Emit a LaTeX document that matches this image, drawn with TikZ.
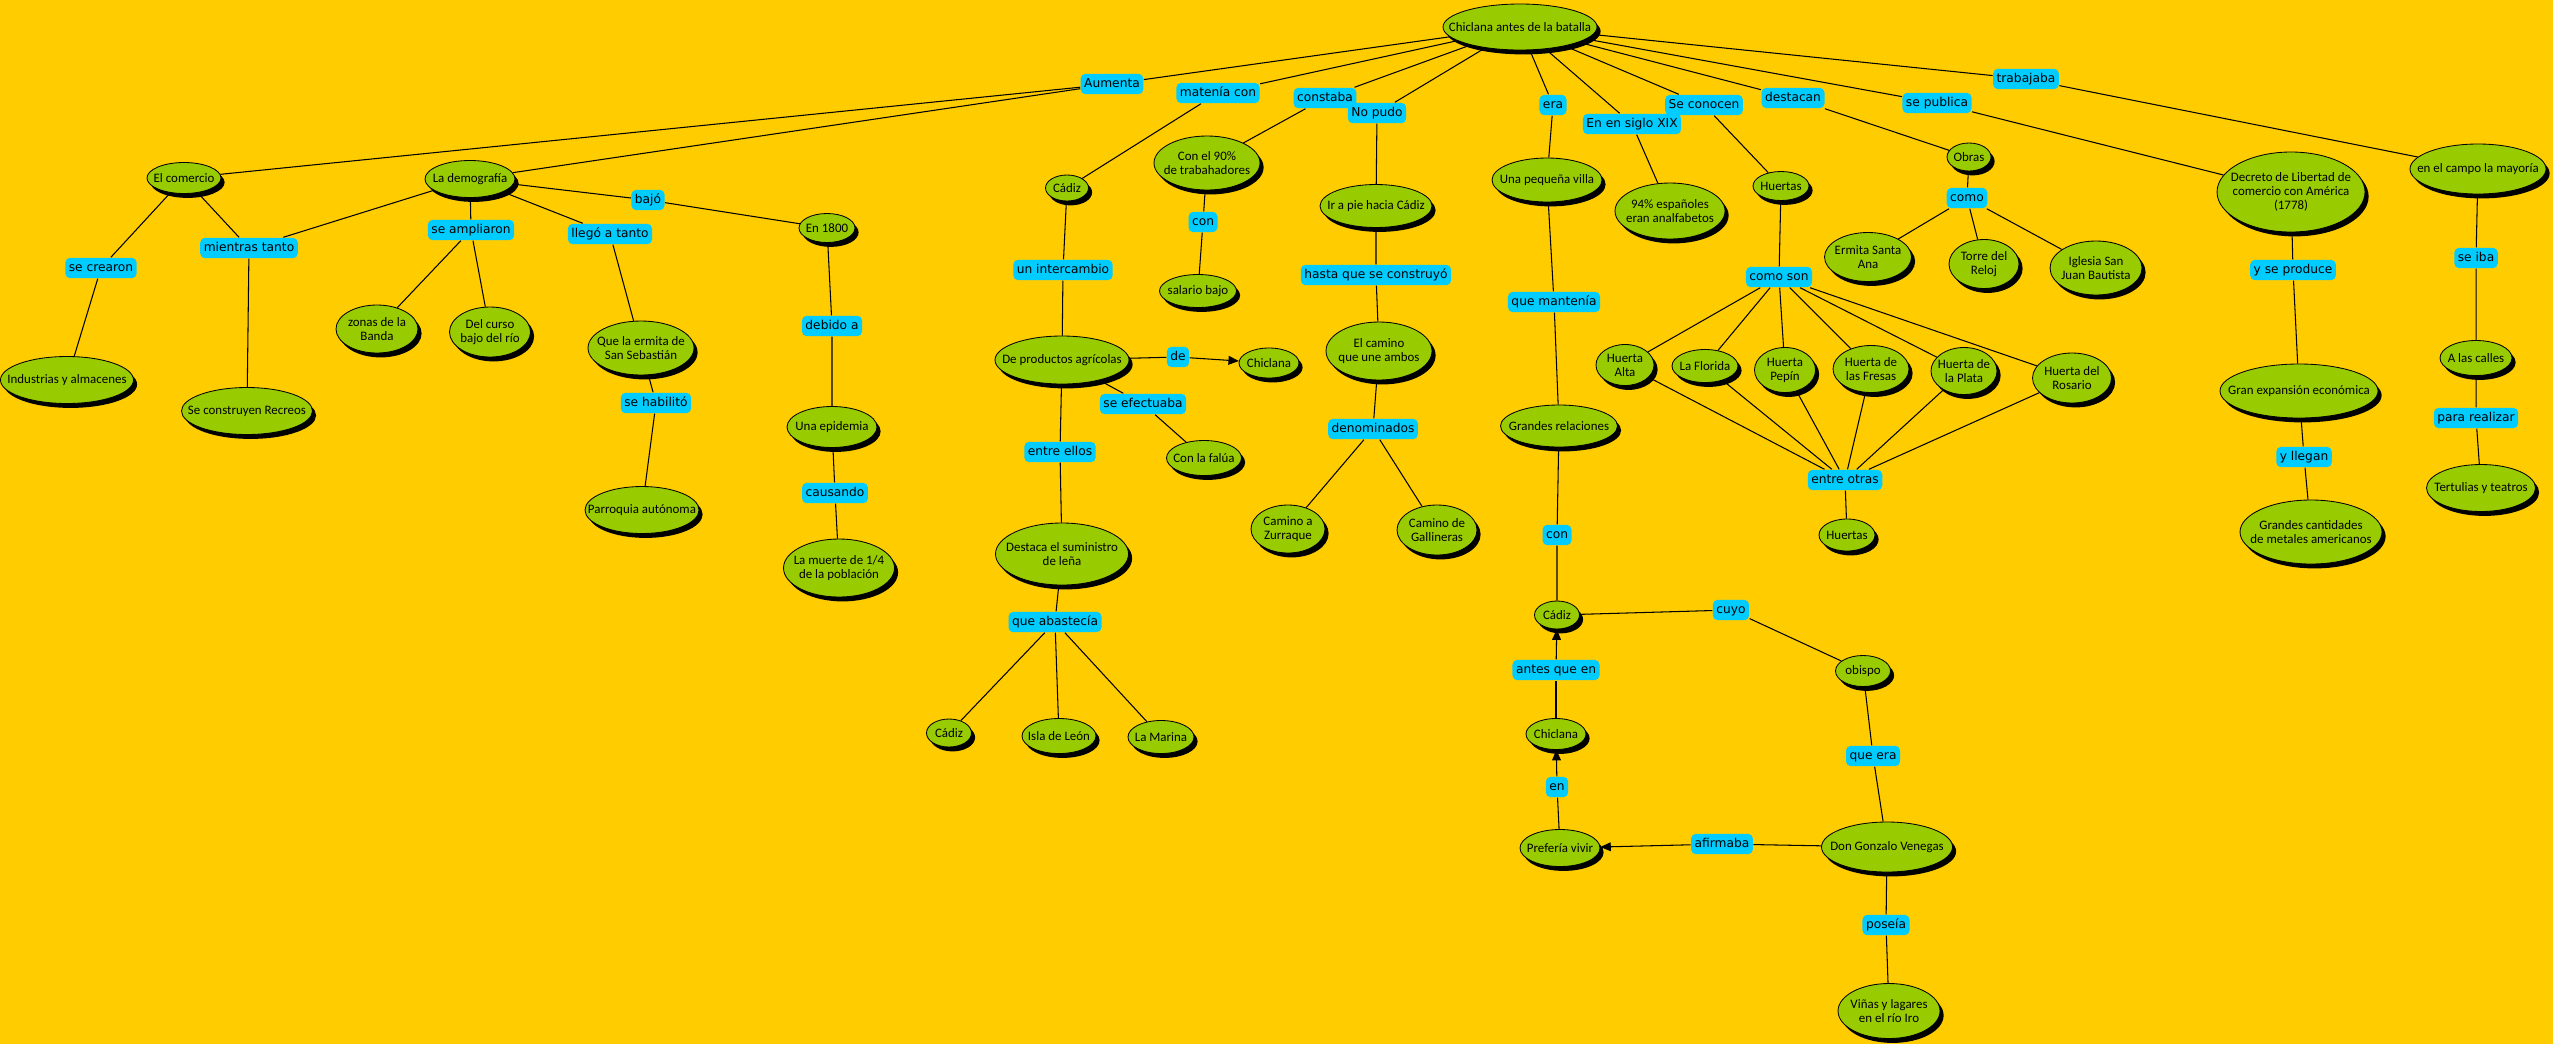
\documentclass[tikz,border=0pt]{standalone}
\usepackage{fontspec}
\setmainfont{Carlito}
\newfontfamily\linkfont{DejaVu Sans}
\usetikzlibrary{shapes.geometric,shadows,arrows.meta}
\definecolor{fondo}{HTML}{FFCC00}
\definecolor{verde}{HTML}{99CC00}
\definecolor{celeste}{HTML}{00CCFF}
\tikzset{
  concept/.style={ellipse,draw=black,line width=0.6pt,fill=verde,inner sep=0pt,
    drop shadow={shadow xshift=0.9mm,shadow yshift=-1.1mm,fill=black,opacity=1}},
  ctext/.style={align=center,inner sep=0pt,font=\fontsize{9.2}{10}\selectfont},
  link/.style={fill=celeste,rounded corners=1.2mm,inner xsep=2.5pt,inner ysep=3pt,
    text height=6.5pt,text depth=2pt,font=\linkfont\fontsize{8.7}{10}\selectfont},
  esz/.style 2 args={minimum width=#1*0.25mm,minimum height=#2*0.25mm},
  tip/.style={-{Triangle[length=2.6mm,width=2.2mm]}}
}
\begin{document}
\begin{tikzpicture}[x=0.25mm,y=-0.25mm,line width=0.75pt]
        \fill[fondo] (0,0) rectangle (2553,1044);
        \useasboundingbox (0,0) rectangle (2553,1044);
        \draw (1520,27) node[concept,esz={154}{46},label={[ctext]center:Chiclana antes de la batalla}] (cab) {};
        \draw (184,178) node[concept,esz={74}{31},label={[ctext]center:El comercio}] (elcom) {};
        \draw (470,179) node[concept,esz={90}{37},label={[ctext]center:La demografía}] (demo) {};
        \draw (67,380) node[concept,esz={133}{47},label={[ctext]center:Industrias y almacenes}] (indus) {};
        \draw (247,411) node[concept,esz={131}{47},label={[ctext]center:Se construyen Recreos}] (recreos) {};
        \draw (377,329) node[concept,esz={82}{48},label={[ctext]center:{zonas de la\\Banda}}] (banda) {};
        \draw (490,332) node[concept,esz={81}{50},label={[ctext]center:{Del curso\\bajo del río}}] (curso) {};
        \draw (641,348) node[concept,esz={106}{54},label={[ctext]center:{Que la ermita de\\San Sebastián}}] (ermita) {};
        \draw (642,510) node[concept,esz={114}{47},label={[ctext]center:Parroquia autónoma}] (parroquia) {};
        \draw (827,228) node[concept,esz={56}{29},label={[ctext]center:En 1800}] (en1800) {};
        \draw (832,427) node[concept,esz={90}{41},label={[ctext]center:Una epidemia}] (epidemia) {};
        \draw (839,568) node[concept,esz={111}{58},label={[ctext]center:{La muerte de 1/4\\de la población}}] (muerte) {};
        \draw (1067,188) node[concept,esz={43}{26},label={[ctext]center:Cádiz}] (cadiztop) {};
        \draw (1207,163) node[concept,esz={106}{54},label={[ctext]center:{Con el 90\%\\de trabahadores}}] (noventa) {};
        \draw (1198,291) node[concept,esz={77}{33},label={[ctext]center:salario bajo}] (salario) {};
        \draw (1062,360) node[concept,esz={134}{48},label={[ctext]center:De productos agrícolas}] (prod) {};
        \draw (1269,363) node[concept,esz={60}{30},label={[ctext]center:Chiclana}] (chicsm) {};
        \draw (1204,458) node[concept,esz={75}{35},label={[ctext]center:Con la falúa}] (falua) {};
        \draw (1062,554) node[concept,esz={133}{62},label={[ctext]center:{Destaca el suministro\\de leña}}] (destaca) {};
        \draw (949,733) node[concept,esz={45}{28},label={[ctext]center:Cádiz}] (cadizb) {};
        \draw (1059,736) node[concept,esz={74}{35},label={[ctext]center:Isla de León}] (isla) {};
        \draw (1161,737) node[concept,esz={66}{33},label={[ctext]center:La Marina}] (marina) {};
        \draw (1376,206) node[concept,esz={112}{43},label={[ctext]center:Ir a pie hacia Cádiz}] (irapie) {};
        \draw (1379,351) node[concept,esz={106}{58},label={[ctext]center:{El camino\\que une ambos}}] (camino) {};
        \draw (1288,529) node[concept,esz={74}{48},label={[ctext]center:{Camino a\\Zurraque}}] (zurraque) {};
        \draw (1437,530) node[concept,esz={80}{50},label={[ctext]center:{Camino de\\Gallineras}}] (gallineras) {};
        \draw (1547,180) node[concept,esz={110}{44},label={[ctext]center:Una pequeña villa}] (villa) {};
        \draw (1559,426) node[concept,esz={117}{42},label={[ctext]center:Grandes relaciones}] (relac) {};
        \draw (1670,211) node[concept,esz={110}{56},label={[ctext]center:{94\% españoles\\eran analfabetos}}] (analf) {};
        \draw (1781,186) node[concept,esz={56}{29},label={[ctext]center:Huertas}] (huertas) {};
        \draw (1625,365) node[concept,esz={58}{41},label={[ctext]center:{Huerta\\Alta}}] (halta) {};
        \draw (1705,366) node[concept,esz={66}{33},label={[ctext]center:La Florida}] (florida) {};
        \draw (1785,370) node[concept,esz={61}{45},label={[ctext]center:{Huerta\\Pepín}}] (pepin) {};
        \draw (1871,369) node[concept,esz={76}{47},label={[ctext]center:{Huerta de\\las Fresas}}] (fresas) {};
        \draw (1964,371) node[concept,esz={66}{47},label={[ctext]center:{Huerta de\\la Plata}}] (plata) {};
        \draw (2072,378) node[concept,esz={79}{50},label={[ctext]center:{Huerta del\\Rosario}}] (rosario) {};
        \draw (1847,535) node[concept,esz={56}{32},label={[ctext]center:Huertas}] (huertasb) {};
        \draw (1969,157) node[concept,esz={44}{28},label={[ctext]center:Obras}] (obras) {};
        \draw (1868,257) node[concept,esz={87}{49},label={[ctext]center:{Ermita Santa\\Ana}}] (santana) {};
        \draw (1984,264) node[concept,esz={70}{49},label={[ctext]center:{Torre del\\Reloj}}] (reloj) {};
        \draw (2096,268) node[concept,esz={92}{54},label={[ctext]center:{Iglesia San\\Juan Bautista}}] (iglesia) {};
        \draw (2291,192) node[concept,esz={148}{80},label={[ctext]center:{Decreto de Libertad de\\comercio con América\\(1778)}}] (decreto) {};
        \draw (2478,169) node[concept,esz={136}{50},label={[ctext]center:en el campo la mayoría}] (campo) {};
        \draw (2299,391) node[concept,esz={158}{54},label={[ctext]center:Gran expansión económica}] (expansion) {};
        \draw (2311,532) node[concept,esz={142}{64},label={[ctext]center:{Grandes cantidades\\de metales americanos}}] (metales) {};
        \draw (2476,358) node[concept,esz={72}{35},label={[ctext]center:A las calles}] (calles) {};
        \draw (2481,488) node[concept,esz={109}{47},label={[ctext]center:Tertulias y teatros}] (tertulias) {};
        \draw (1557,615) node[concept,esz={45}{28},label={[ctext]center:Cádiz}] (cadizm) {};
        \draw (1863,671) node[concept,esz={55}{31},label={[ctext]center:obispo}] (obispo) {};
        \draw (1556,734) node[concept,esz={60}{31},label={[ctext]center:Chiclana}] (chicm) {};
        \draw (1560,848) node[concept,esz={80}{37},label={[ctext]center:Prefería vivir}] (prefiere) {};
        \draw (1887,847) node[concept,esz={131}{50},label={[ctext]center:Don Gonzalo Venegas}] (gonzalo) {};
        \draw (1889,1011) node[concept,esz={102}{55},label={[ctext]center:{Viñas y lagares\\en el río Iro}}] (vinas) {};
        \draw (1112,84) node[link] (aumenta) {Aumenta};
        \draw (1218,93) node[link] (matenia) {matenía con};
        \draw (1325,98) node[link] (constaba) {constaba};
        \draw (1377,113) node[link] (nopudo) {No pudo};
        \draw (1553,105) node[link] (era) {era};
        \draw (1632,124) node[link] (siglo) {En en siglo XIX};
        \draw (1704,105) node[link] (seconocen) {Se conocen};
        \draw (1793,98) node[link] (destacan) {destacan};
        \draw (1937,103) node[link] (publica) {se publica};
        \draw (2026,79) node[link] (trabajaba) {trabajaba};
        \draw (101,268) node[link] (crearon) {se crearon};
        \draw (249,248) node[link] (mientras) {mientras tanto};
        \draw (471,230) node[link] (ampliaron) {se ampliaron};
        \draw (610,234) node[link] (llego) {llegó a tanto};
        \draw (648,200) node[link] (bajo) {bajó};
        \draw (656,403) node[link] (habilito) {se habilitó};
        \draw (832,326) node[link] (debido) {debido a};
        \draw (835,493) node[link] (causando) {causando};
        \draw (1063,270) node[link] (intercambio) {un intercambio};
        \draw (1203,222) node[link] (con1) {con};
        \draw (1178,357) node[link] (de) {de};
        \draw (1143,404) node[link] (efectuaba) {se efectuaba};
        \draw (1060,452) node[link] (entreellos) {entre ellos};
        \draw (1055,622) node[link] (abastecia) {que abastecía};
        \draw (1376,275) node[link] (hasta) {hasta que se construyó};
        \draw (1373,429) node[link] (denominados) {denominados};
        \draw (1554,302) node[link] (mantenia) {que mantenía};
        \draw (1557,535) node[link] (con2) {con};
        \draw (1779,277) node[link] (comoson) {como son};
        \draw (1845,480) node[link] (entreotras) {entre otras};
        \draw (1967,198) node[link] (como) {como};
        \draw (2293,270) node[link] (produce) {y se produce};
        \draw (2304,457) node[link] (llegan) {y llegan};
        \draw (2476,258) node[link] (seiba) {se iba};
        \draw (2476,418) node[link] (realizar) {para realizar};
        \draw (1731,610) node[link] (cuyo) {cuyo};
        \draw (1556,670) node[link] (antesque) {antes que en};
        \draw (1873,756) node[link] (queera) {que era};
        \draw (1557,787) node[link] (enlink) {en};
        \draw (1722,844) node[link] (afirmaba) {afirmaba};
        \draw (1886,925) node[link] (poseia) {poseía};
        \draw (cab)--(aumenta);
        \draw (aumenta)--(elcom);
        \draw (aumenta)--(demo);
        \draw (cab)--(matenia)--(cadiztop);
        \draw (cab)--(constaba)--(noventa);
        \draw (cab)--(nopudo)--(irapie);
        \draw (cab)--(era)--(villa);
        \draw (cab)--(siglo)--(analf);
        \draw (cab)--(seconocen)--(huertas);
        \draw (cab)--(destacan)--(obras);
        \draw (cab)--(publica)--(decreto);
        \draw (cab)--(trabajaba)--(campo);
        \draw (elcom)--(crearon)--(indus);
        \draw (elcom)--(mientras)--(recreos);
        \draw (demo)--(mientras);
        \draw (demo)--(ampliaron);
        \draw (ampliaron)--(banda);
        \draw (ampliaron)--(curso);
        \draw (demo)--(llego)--(ermita)--(habilito)--(parroquia);
        \draw (demo)--(bajo)--(en1800)--(debido)--(epidemia)--(causando)--(muerte);
        \draw (cadiztop)--(intercambio)--(prod);
        \draw (prod)--(de);
        \draw[tip] (de)--(chicsm);
        \draw (prod)--(efectuaba)--(falua);
        \draw (prod)--(entreellos)--(destaca)--(abastecia);
        \draw (abastecia)--(cadizb);
        \draw (abastecia)--(isla);
        \draw (abastecia)--(marina);
        \draw (noventa)--(con1)--(salario);
        \draw (irapie)--(hasta)--(camino)--(denominados);
        \draw (denominados)--(zurraque);
        \draw (denominados)--(gallineras);
        \draw (villa)--(mantenia)--(relac)--(con2)--(cadizm)--(cuyo)--(obispo)--(queera)--(gonzalo)--(afirmaba);
        \draw[tip] (afirmaba)--(prefiere);
        \draw (prefiere)--(enlink);
        \draw[tip] (enlink)--(chicm);
        \draw (chicm)--(antesque);
        \draw[tip] (antesque)--(cadizm);
        \draw (gonzalo)--(poseia)--(vinas);
        \draw (huertas)--(comoson);
        \draw (comoson)--(halta)--(entreotras);
        \draw (comoson)--(florida)--(entreotras);
        \draw (comoson)--(pepin)--(entreotras);
        \draw (comoson)--(fresas)--(entreotras);
        \draw (comoson)--(plata)--(entreotras);
        \draw (comoson)--(rosario)--(entreotras);
        \draw (entreotras)--(huertasb);
        \draw (obras)--(como);
        \draw (como)--(santana);
        \draw (como)--(reloj);
        \draw (como)--(iglesia);
        \draw (decreto)--(produce)--(expansion)--(llegan)--(metales);
        \draw (campo)--(seiba)--(calles)--(realizar)--(tertulias);
\end{tikzpicture}
\end{document}
